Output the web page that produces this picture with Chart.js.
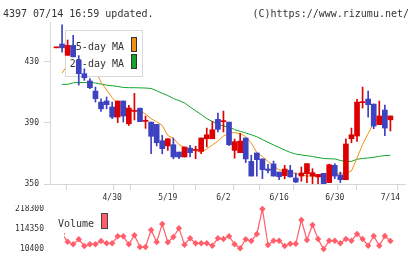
<!DOCTYPE html>
<html>
<head>
<meta charset="utf-8">
<script src="https://cdn.jsdelivr.net/npm/chart.js@4.4.1/dist/chart.umd.min.js"></script>
<style>
  body { margin: 0; background: #fff; }
  #wrap { position: relative; width: 420px; height: 259px; overflow: hidden; }
  canvas { position: absolute; left: 0; }
  #price { top: 0; }
  #volume { top: 205px; }
</style>
</head>
<body>
<div id="wrap">
  <canvas id="price" width="420" height="205"></canvas>
  <canvas id="volume" width="420" height="54"></canvas>
</div>
<script>
// --- data ---
const dates = [
  "4/15", "4/16", "4/17", "4/18", "4/21", "4/22", "4/23", "4/24", "4/25", "4/28",
  "4/30", "5/2", "5/7", "5/8", "5/9", "5/12", "5/13", "5/14", "5/15", "5/16",
  "5/19", "5/20", "5/21", "5/22", "5/23", "5/26", "5/27", "5/28", "5/29", "5/30",
  "6/2", "6/3", "6/4", "6/5", "6/6", "6/9", "6/10", "6/11", "6/12", "6/13",
  "6/16", "6/17", "6/18", "6/19", "6/20", "6/23", "6/24", "6/25", "6/26", "6/27",
  "6/30", "7/1", "7/2", "7/3", "7/4", "7/7", "7/8", "7/9", "7/10", "7/11",
  "7/14"
];
const opens = [
  439.1, 441.6, 434.2, 440.7, 431.1, 422.2, 417.4, 410.8, 403.6, 404.3,
  400.4, 393.8, 404.3, 389.4, 397.5, 399.6, 391.0, 390.5, 389.0, 378.3,
  374.9, 375.7, 370.9, 367.7, 373.5, 372.0, 371.4, 379.6, 379.6, 392.3,
  390.8, 390.5, 372.0, 370.5, 380.1, 364.8, 370.3, 366.4, 359.8, 363.1,
  357.8, 355.4, 359.0, 353.9, 355.2, 356.7, 355.2, 354.6, 357.0, 350.9,
  362.2, 355.9, 352.8, 379.6, 381.4, 403.2, 405.6, 402.3, 388.8, 398.4,
  392.0
];
const highs = [
  439.6, 454.2, 444.2, 447.3, 434.0, 425.4, 418.9, 413.4, 405.8, 406.9,
  403.6, 404.3, 404.3, 401.5, 409.3, 399.7, 394.5, 390.5, 389.0, 381.8,
  379.6, 380.1, 370.9, 374.2, 375.3, 374.7, 380.1, 386.6, 391.0, 396.4,
  397.7, 390.5, 379.4, 383.1, 380.1, 368.8, 370.3, 366.4, 362.9, 365.0,
  357.8, 362.2, 362.2, 357.2, 361.1, 363.3, 360.0, 356.3, 357.0, 363.0,
  363.3, 357.8, 379.6, 386.6, 405.4, 413.4, 410.8, 402.3, 404.3, 401.7,
  394.5
];
const lows = [
  439.1, 436.3, 434.2, 433.2, 414.7, 417.8, 412.3, 403.6, 397.5, 399.2,
  392.7, 390.1, 390.5, 388.4, 391.9, 390.8, 386.4, 369.8, 374.9, 369.8,
  372.0, 366.5, 366.5, 367.7, 367.7, 366.5, 369.8, 374.2, 379.6, 384.0,
  384.0, 375.0, 366.9, 370.5, 364.0, 355.2, 355.2, 353.5, 357.2, 355.2,
  352.8, 353.5, 354.6, 350.9, 351.8, 350.9, 349.6, 349.6, 349.6, 350.9,
  353.5, 350.9, 352.8, 377.0, 377.9, 399.7, 393.8, 386.2, 388.8, 381.6,
  384.7
];
const closes = [
  439.6, 439.1, 440.7, 433.2, 422.2, 419.5, 413.0, 405.8, 399.2, 401.9,
  393.8, 404.3, 394.5, 399.7, 398.1, 390.8, 391.6, 381.2, 377.0, 373.1,
  379.6, 367.7, 367.7, 374.2, 370.5, 372.6, 380.1, 382.2, 385.5, 385.8,
  391.4, 375.7, 377.7, 378.1, 366.4, 355.2, 365.9, 359.4, 358.9, 355.2,
  354.8, 359.8, 354.6, 351.3, 357.2, 363.3, 357.4, 356.3, 349.6, 362.6,
  355.2, 352.8, 376.2, 382.2, 403.6, 403.8, 401.9, 387.9, 394.5, 386.6,
  394.5
];
const ma5 = [
  null, 422.6, 428.0, 433.0, 434.0, 431.0, 425.0, 424.0, 416.7, 411.5,
  406.6, 402.3, 399.7, 398.6, 398.2, 397.9, 395.8, 392.7, 390.7, 388.3,
  381.7, 379.9, 375.8, 373.9, 373.1, 371.9, 370.7, 372.9, 375.5, 378.1,
  381.4, 383.4, 383.6, 383.0, 381.1, 376.8, 370.5, 368.0, 364.7, 361.8,
  359.2, 358.6, 358.0, 356.7, 355.9, 355.2, 355.2, 355.2, 355.6, 355.9,
  356.3, 356.9, 357.2, 358.5, 367.0, 375.8, 383.0, 389.9, 393.8, 394.0,
  394.0
];
const ma25 = [
  null, 415.2, 415.2, 416.2, 416.4, 416.4, 416.4, 416.1, 415.4, 414.7,
  414.3, 413.8, 413.2, 413.0, 413.0, 412.9, 412.8, 412.5, 411.0, 409.3,
  407.9, 405.9, 404.6, 403.1, 400.4, 397.9, 395.5, 392.8, 390.9, 389.4,
  387.9, 387.3, 385.6, 384.5, 383.4, 382.2, 380.9, 379.1, 377.3, 375.5,
  373.9, 372.2, 370.7, 369.6, 369.0, 368.5, 368.0, 367.3, 366.7, 366.5,
  366.4, 365.4, 364.8, 364.8, 366.2, 366.7, 367.0, 367.5, 368.1, 368.6,
  368.8
];
const volumes = [
  60000, 88400, 48300, 34800, 60800, 26000, 34800, 34800, 52000, 40000,
  40000, 76400, 76400, 34800, 81600, 20800, 20800, 109200, 46800, 140300,
  45200, 72800, 118000, 32800, 66000, 40000, 40000, 40000, 27600, 66000,
  62400, 76900, 34800, 14000, 60800, 52000, 88400, 218300, 31200, 53500,
  53500, 26000, 38000, 38000, 161100, 57200, 135100, 62400, 10400, 53500,
  53500, 40000, 62400, 53500, 88400, 62400, 27600, 78000, 27600, 78000,
  52000
];
const priceTicks = [350, 390, 430];
const volumeTicks = [10400, 114350, 218300];
const dateTickIdx = [10, 20, 30, 40, 50, 60];

// --- look ---
const RED = "#dc0000";
const BLUE = "#3c42c0";
const ORANGE = "#f0900e";
const GREEN = "#12a52a";
const VOL = "#ff5e6a";
const AXIS = "#d6d6d6";
const TEXT = "#333";
const MONO = '"DejaVu Sans Mono", monospace';

const X_MIN = -1.168, X_MAX = 62.62;
const pxPer = 355 / (X_MAX - X_MIN);
const VX_MIN = X_MIN + 14 / pxPer;

const idx = dates.map((d, i) => i);
const colors = idx.map(i => closes[i] >= opens[i] ? RED : BLUE);

const gridTicks = [];
for (let k = 0; k <= 11; k++) gridTicks.push({ value: X_MIN + k * (X_MAX - X_MIN) / 11 });
const labelTicks = dateTickIdx.map(v => ({ value: v }));

const chartPlugin = {
  id: "priceDecor",
  afterDatasetDraw(chart, args) {
    // legend sits above the MA lines but under the candles
    if (args.index !== 3) return;
    const ctx = chart.ctx;
    ctx.save();
    ctx.fillStyle = "#fff";
    ctx.fillRect(65.5, 30.5, 77, 46);
    ctx.strokeStyle = "#d8d8d8";
    ctx.lineWidth = 1;
    ctx.strokeRect(65.5, 30.5, 77, 46);
    ctx.font = "10px " + MONO;
    ctx.fillStyle = TEXT;
    ctx.textAlign = "right";
    ctx.textBaseline = "alphabetic";
    ctx.fillText("5-day MA", 124, 49.5);
    ctx.fillText("25-day MA", 124, 66.5);
    ctx.fillStyle = ORANGE;
    ctx.fillRect(131, 37, 6, 15);
    ctx.fillStyle = GREEN;
    ctx.fillRect(131, 54, 6, 15);
    ctx.strokeStyle = "#333";
    ctx.strokeRect(131.5, 37.5, 5, 14);
    ctx.strokeRect(131.5, 54.5, 5, 14);
    ctx.restore();
  },
  afterDraw(chart) {
    const ctx = chart.ctx;
    ctx.save();
    ctx.font = "10px " + MONO;
    ctx.fillStyle = TEXT;
    ctx.textBaseline = "alphabetic";
    ctx.textAlign = "left";
    ctx.fillText("4397 07/14 16:59 updated.", 3, 16.5);
    ctx.textAlign = "right";
    ctx.fillText("(C)https://www.rizumu.net/", 409, 16.5);
    ctx.restore();
  }
};

new Chart(document.getElementById("price"), {
  type: "bar",
  data: {
    datasets: [
      {
        label: "wick",
        data: idx.map(i => ({ x: i, y: [lows[i], highs[i]] })),
        backgroundColor: colors,
        barThickness: 1,
        grouped: false,
        order: 2
      },
      {
        label: "body",
        data: idx.map(i => ({ x: i, y: [opens[i], closes[i]] })),
        backgroundColor: colors,
        barThickness: 5,
        minBarLength: 1,
        grouped: false,
        order: 1
      },
      {
        type: "line",
        label: "25-day MA",
        data: idx.map(i => ({ x: i, y: ma25[i] })),
        borderColor: GREEN,
        borderWidth: 1,
        pointRadius: 0,
        order: 4
      },
      {
        type: "line",
        label: "5-day MA",
        data: idx.map(i => ({ x: i, y: ma5[i] })),
        borderColor: ORANGE,
        borderWidth: 1,
        pointRadius: 0,
        order: 3
      }
    ]
  },
  options: {
    responsive: false,
    animation: false,
    devicePixelRatio: 1,
    layout: { padding: { left: 0, top: 22, right: 15, bottom: 0 } },
    plugins: { legend: { display: false }, tooltip: { enabled: false } },
    scales: {
      x: {
        type: "linear",
        min: X_MIN,
        max: X_MAX,
        offset: false,
        afterBuildTicks: s => {
          s.ticks = gridTicks.concat(labelTicks).sort((a, b) => a.value - b.value);
        },
        afterFit: s => { s.height = 21; },
        grid: {
          drawOnChartArea: false,
          tickLength: 6,
          tickColor: c => (c.tick && dateTickIdx.includes(c.tick.value)) ? "rgba(0,0,0,0)" : AXIS
        },
        border: { color: AXIS, width: 1 },
        ticks: {
          autoSkip: false,
          maxRotation: 0,
          padding: 3,
          color: TEXT,
          font: { family: MONO, size: 8 },
          callback: v => dateTickIdx.includes(v) ? dates[v] : ""
        }
      },
      y: {
        min: 350,
        max: 456,
        afterBuildTicks: s => { s.ticks = priceTicks.map(v => ({ value: v })); },
        afterFit: s => { s.width = 50; },
        grid: { drawOnChartArea: false, tickLength: 6, color: AXIS },
        border: { color: AXIS, width: 1 },
        ticks: { padding: 5, color: TEXT, font: { family: MONO, size: 8 }, callback: v => String(v) }
      }
    }
  },
  plugins: [chartPlugin]
});

const volumePlugin = {
  id: "volumeDecor",
  beforeDatasetsDraw(chart) {
    const ctx = chart.ctx;
    ctx.save();
    ctx.font = "10px " + MONO;
    ctx.fillStyle = TEXT;
    ctx.textAlign = "left";
    ctx.textBaseline = "alphabetic";
    ctx.fillText("Volume", 58, 21.7);
    ctx.fillStyle = VOL;
    ctx.fillRect(102, 8, 5, 15);
    ctx.strokeStyle = "#444";
    ctx.lineWidth = 1;
    ctx.strokeRect(101.5, 8.5, 6, 15);
    ctx.restore();
  }
};

new Chart(document.getElementById("volume"), {
  type: "line",
  data: {
    datasets: [{
      label: "Volume",
      data: idx.map(i => ({ x: i, y: volumes[i] })),
      borderColor: VOL,
      backgroundColor: VOL,
      borderWidth: 1.2,
      pointStyle: "rectRot",
      pointRadius: 3.2,
      pointBorderWidth: 0,
      clip: { left: 0, right: false, top: false, bottom: false }
    }]
  },
  options: {
    responsive: false,
    animation: false,
    devicePixelRatio: 1,
    layout: { padding: { left: 0, top: 4, right: 15, bottom: 10 }, autoPadding: false },
    plugins: { legend: { display: false }, tooltip: { enabled: false } },
    scales: {
      x: { type: "linear", min: VX_MIN, max: X_MAX, display: false },
      y: {
        min: 10400,
        max: 218300,
        afterBuildTicks: s => { s.ticks = volumeTicks.map(v => ({ value: v })); },
        afterFit: s => { s.width = 64; s.paddingTop = 0; s.paddingBottom = 0; },
        grid: { display: true, drawOnChartArea: false, drawTicks: true, tickLength: 18, tickColor: "rgba(0,0,0,0)" },
        border: { display: false },
        ticks: { padding: 2, color: TEXT, font: { family: MONO, size: 8 }, callback: v => String(v) }
      }
    }
  },
  plugins: [volumePlugin]
});
</script>
</body>
</html>
